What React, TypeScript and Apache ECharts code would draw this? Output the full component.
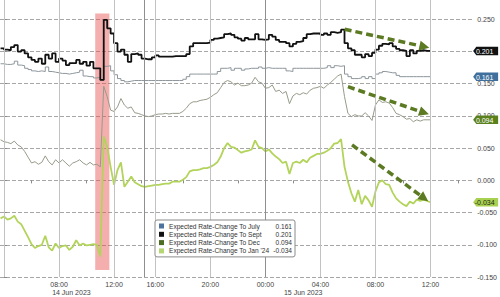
import React, { useEffect, useRef } from "react";
import * as echarts from "echarts";

// ---- data (chart-hours: 0 = 14 Jun 04:00, one hour of the 14:00-16:00 session gap is compressed) ----
const sampleStartHour = -0.25;
const sampleStepHours = 0.25;

const septValues = [
  0.205, 0.203, 0.202, 0.207, 0.21, 0.2, 0.202, 0.197, 0.191, 0.187,
  0.184, 0.189, 0.181, 0.195, 0.189, 0.197, 0.184, 0.189, 0.186, 0.179,
  0.182, 0.182, 0.187, 0.181, 0.184, 0.178, 0.184, 0.174, 0.174, 0.156,
  0.249, 0.236, 0.228, 0.213, 0.2, 0.203, 0.195, 0.184, 0.196, 0.197,
  0.195, 0.189, 0.188, 0.188, 0.191, 0.194, 0.192, 0.192, 0.192, 0.192,
  0.193, 0.193, 0.193, 0.193, 0.196, 0.208, 0.213, 0.213, 0.213, 0.213,
  0.214, 0.218, 0.22, 0.221, 0.222, 0.227, 0.228, 0.226, 0.222, 0.22,
  0.217, 0.221, 0.219, 0.219, 0.227, 0.219, 0.218, 0.219, 0.226, 0.223,
  0.218, 0.215, 0.215, 0.213, 0.208, 0.212, 0.215, 0.216, 0.221, 0.227,
  0.228, 0.228, 0.228, 0.226, 0.228, 0.226, 0.23, 0.229, 0.23, 0.234,
  0.213, 0.205, 0.202, 0.195, 0.195, 0.191, 0.196, 0.193, 0.198, 0.203,
  0.209, 0.212, 0.211, 0.213, 0.208, 0.204, 0.202, 0.201, 0.193, 0.202,
  0.197, 0.201, 0.202, 0.201, 0.201, 0.201,
];

const julyValues = [
  0.181, 0.18, 0.18, 0.181, 0.185, 0.179, 0.178, 0.174, 0.172, 0.17,
  0.169, 0.17, 0.169, 0.176, 0.169, 0.168, 0.167, 0.166, 0.166, 0.165,
  0.166, 0.167, 0.168, 0.171, 0.162, 0.161, 0.161, 0.159, 0.16, 0.156,
  0.177, 0.178, 0.17, 0.164, 0.158, 0.155, 0.153, 0.154, 0.155, 0.155,
  0.155, 0.155, 0.155, 0.155, 0.155, 0.155, 0.155, 0.155, 0.155, 0.155,
  0.155, 0.155, 0.155, 0.157, 0.161, 0.165, 0.165, 0.165, 0.165, 0.165,
  0.165, 0.165, 0.165, 0.169, 0.174, 0.174, 0.175, 0.171, 0.174, 0.174,
  0.171, 0.173, 0.174, 0.174, 0.174, 0.176, 0.174, 0.175, 0.174, 0.174,
  0.174, 0.174, 0.174, 0.17, 0.169, 0.174, 0.174, 0.174, 0.174, 0.174,
  0.174, 0.174, 0.174, 0.174, 0.175, 0.178, 0.175, 0.178, 0.177, 0.178,
  0.165, 0.161, 0.158, 0.158, 0.159, 0.161, 0.158, 0.161, 0.158, 0.165,
  0.167, 0.169, 0.168, 0.167, 0.167, 0.163, 0.161, 0.161, 0.161, 0.161,
  0.161, 0.161, 0.161, 0.161, 0.161, 0.161,
];

const decValues = [
  0.063, 0.06, 0.059, 0.057, 0.061, 0.055, 0.052, 0.045, 0.036, 0.027,
  0.029, 0.025, 0.028, 0.038, 0.029, 0.024, 0.032, 0.027, 0.032, 0.027,
  0.022, 0.027, 0.029, 0.032, 0.027, 0.024, 0.028, 0.024, 0.025, 0.021,
  0.146, 0.13, 0.109, 0.107, 0.114, 0.127, 0.117, 0.112, 0.114, 0.105,
  0.104, 0.102, 0.1, 0.099, 0.1, 0.102, 0.103, 0.103, 0.104, 0.103,
  0.104, 0.104, 0.104, 0.107, 0.112, 0.119, 0.122, 0.122, 0.124, 0.125,
  0.126, 0.129, 0.133, 0.136, 0.144, 0.152, 0.155, 0.153, 0.148, 0.151,
  0.147, 0.147, 0.148, 0.151, 0.16, 0.153, 0.151, 0.143, 0.144, 0.148,
  0.138, 0.14, 0.135, 0.138, 0.119, 0.131, 0.135, 0.133, 0.136, 0.134,
  0.14, 0.143, 0.144, 0.146, 0.143, 0.148, 0.152, 0.157, 0.162, 0.165,
  0.13, 0.104, 0.099, 0.102, 0.1, 0.1, 0.105, 0.1, 0.093, 0.117,
  0.125, 0.121, 0.122, 0.12, 0.113, 0.104, 0.102, 0.099, 0.095, 0.096,
  0.091, 0.094, 0.092, 0.094, 0.094, 0.094,
];

const janValues = [
  -0.059, -0.056, -0.061, -0.059, -0.055, -0.064, -0.068, -0.078, -0.088, -0.099,
  -0.105, -0.102, -0.1, -0.086, -0.104, -0.109, -0.098, -0.105, -0.102, -0.101,
  -0.108, -0.103, -0.093, -0.101, -0.098, -0.101, -0.1, -0.099, -0.1, -0.118,
  0.068, 0.052, 0.021, -0.007, 0.016, 0.028, -0.01, -0.002, 0.006, -0.003,
  -0.006, -0.009, -0.01, -0.009, -0.008, -0.007, -0.007, -0.006, -0.005, -0.005,
  -0.002, -0.002, -0.002, 0.001, 0.005, 0.014, 0.016, 0.016, 0.017, 0.019,
  0.019, 0.021, 0.024, 0.028, 0.037, 0.05, 0.058, 0.052, 0.051, 0.047,
  0.043, 0.045, 0.046, 0.048, 0.062, 0.052, 0.05, 0.045, 0.048, 0.042,
  0.037, 0.033, 0.027, 0.029, 0.01, 0.027, 0.029, 0.027, 0.032, 0.028,
  0.035, 0.038, 0.041, 0.041, 0.043, 0.046, 0.05, 0.057, 0.058, 0.064,
  0.021, -0.002, -0.02, -0.033, -0.015, -0.037, -0.024, -0.031, -0.041, -0.017,
  -0.003, 0.0, -0.006, -0.007, -0.019, -0.028, -0.033, -0.037, -0.04, -0.033,
  -0.036, -0.03, -0.032, -0.03, -0.032, -0.034,
];

const seriesNames = [
  "Expected Rate-Change To July",
  "Expected Rate-Change To Sept",
  "Expected Rate-Change To Dec",
  "Expected Rate-Change To Jan '24",
];
const lastValues = [0.161, 0.201, 0.094, -0.034];

const timeLabelHours = [4, 8, 11, 15, 19, 23, 27, 31];
const timeLabels = ["08:00", "12:00", "16:00", "20:00", "00:00", "04:00", "08:00", "12:00"];
const tickHours = [0, 2, 4, 6, 8, 10, 11, 13, 15, 17, 19, 21, 23, 25, 27, 29, 31, 33];
const dateLabelHours = [4.9, 21.75];
const dateLabels = ["14 Jun 2023", "15 Jun 2023"];
const yTickValues = [-0.15, -0.1, -0.05, 0, 0.05, 0.1, 0.15, 0.2, 0.25];
const lightGridHours = [0, 4, 8, 11, 15, 23, 27, 31];
const solidGridHours = [10.2, 19];

// FOMC window (red band) and trend arrows, in data coordinates
const fomcBand = { from: 6.63, to: 7.66, top: 0.259, bottom: -0.139 };
const arrows = [
  { from: [24.76, 0.2345], to: [30.56, 0.2075] },
  { from: [25.0, 0.1454], to: [30.54, 0.105] },
  { from: [25.3, 0.055], to: [30.54, -0.0278] },
];

const X_MIN = -0.29;
const X_MAX = 34.1;
const Y_MIN = -0.15;
const Y_MAX = 0.28;
const FONT = "'Liberation Sans', Arial, sans-serif";
const GRID_COLOR = "#a6a6a6";

const lineColors = ["#8d969c", "#111111", "#969b8a", "#b3d45a"];
const legendColors = ["#4b739b", "#111111", "#4f6d22", "#b5d670"];
const tagColors = ["#3f6f9c", "#111111", "#5b801e", "#a8d152"];
const tagTextColors = ["#ffffff", "#ffffff", "#ffffff", "#1f2a10"];
const lineWidths = [1, 1.8, 1, 1.8];
const stepModes: (string | false)[] = ["end", "end", false, false];

const allValues = [julyValues, septValues, decValues, janValues];

function toPairs(values: number[]) {
  return values.map((v, i) => [sampleStartHour + sampleStepHours * i, v]);
}

function buildOption() {
  const lineSeries = allValues.map((vals, k) => ({
    name: seriesNames[k],
    type: "line",
    data: toPairs(vals),
    step: stepModes[k] || undefined,
    showSymbol: false,
    symbol: "none",
    silent: true,
    z: k === 1 ? 4 : 3,
    lineStyle: { color: lineColors[k], width: lineWidths[k] },
    itemStyle: { color: legendColors[k] },
    markPoint: {
      silent: true,
      symbol: "path://M0,4 L3,0 L24,0 L24,8 L3,8 Z",
      symbolSize: [25, 8.5],
      symbolOffset: [12.5, 0],
      itemStyle: { color: tagColors[k] },
      label: {
        show: true,
        position: "inside",
        offset: [-1, 0.5],
        formatter: lastValues[k].toFixed(3),
        color: tagTextColors[k],
        fontSize: 7,
        fontFamily: FONT,
      },
      data: [{ coord: [X_MAX, lastValues[k]], value: lastValues[k] }],
    },
  }));

  return {
    animation: false,
    backgroundColor: "#ffffff",
    textStyle: { fontFamily: FONT },
    grid: { left: 0, right: 24, top: 0, bottom: 20, containLabel: false },
    legend: {
      data: seriesNames,
      orient: "vertical",
      left: 155,
      top: 220,
      padding: [2, 3, 2, 4],
      backgroundColor: "#ffffff",
      borderColor: "#8a8a8a",
      borderWidth: 1,
      borderRadius: 2,
      icon: "rect",
      itemWidth: 5,
      itemHeight: 5,
      itemGap: 0.3,
      selectedMode: false,
      z: 20,
      textStyle: {
        fontSize: 6.6,
        color: "#333",
        fontFamily: FONT,
        lineHeight: 8,
        rich: {
          n: { width: 105, fontSize: 6.6, color: "#333", fontFamily: FONT, lineHeight: 8 },
          v: { width: 18, align: "right", fontSize: 6.6, color: "#333", fontFamily: FONT, lineHeight: 8 },
        },
      },
      formatter: (name: string) => {
        const idx = seriesNames.indexOf(name);
        return `{n|${name}}{v|${lastValues[idx].toFixed(3)}}`;
      },
    },
    xAxis: [
      {
        type: "value",
        min: X_MIN,
        max: X_MAX,
        position: "bottom",
        axisLine: { show: false },
        axisTick: {
          show: true,
          customValues: tickHours,
          length: 3,
          lineStyle: { color: "#8a8a8a" },
        },
        axisLabel: {
          customValues: timeLabelHours,
          formatter: (v: number) => {
            const i = timeLabelHours.findIndex((h) => Math.abs(h - v) < 1e-6);
            return i >= 0 ? timeLabels[i] : "";
          },
          fontSize: 7,
          color: "#444",
          margin: 4,
          fontFamily: FONT,
        },
        splitLine: { show: false },
      },
      {
        type: "value",
        min: X_MIN,
        max: X_MAX,
        position: "bottom",
        axisLine: { show: false },
        axisTick: { show: false },
        axisLabel: {
          customValues: dateLabelHours,
          formatter: (v: number) => {
            const i = dateLabelHours.findIndex((h) => Math.abs(h - v) < 1e-6);
            return i >= 0 ? dateLabels[i] : "";
          },
          fontSize: 7,
          color: "#444",
          margin: 12,
          fontFamily: FONT,
        },
        splitLine: { show: false },
      },
    ],
    yAxis: {
      type: "value",
      position: "right",
      min: Y_MIN,
      max: Y_MAX,
      interval: 0.05,
      axisLine: { show: true, lineStyle: { color: "#9a9a9a", width: 1 } },
      axisTick: {
        show: true,
        inside: false,
        customValues: yTickValues,
        length: 3,
        lineStyle: { color: "#8a8a8a" },
      },
      axisLabel: {
        customValues: yTickValues,
        formatter: (v: number) => v.toFixed(3),
        fontSize: 7,
        color: "#444",
        margin: 4,
        fontFamily: FONT,
      },
      splitLine: { show: true, lineStyle: { color: GRID_COLOR, type: "dashed", width: 1 } },
    },
    series: [
      {
        name: "gridlines",
        type: "line",
        data: [],
        silent: true,
        z: 1,
        markLine: {
          silent: true,
          symbol: ["none", "none"],
          label: { show: false },
          lineStyle: { color: "#c2c2c2", type: "solid", width: 1 },
          data: [
            ...lightGridHours.map((h) => ({
              xAxis: h,
              lineStyle: { color: "#c2c2c2", type: "solid", width: 1 },
            })),
            ...solidGridHours.map((h) => ({
              xAxis: h,
              lineStyle: { color: "#8f8f8f", type: "solid", width: 1 },
            })),
          ],
        },
      },
      ...lineSeries,
      {
        name: "annotations",
        type: "line",
        data: [],
        silent: true,
        z: 10,
        markArea: {
          silent: true,
          itemStyle: { color: "rgba(234, 86, 86, 0.48)" },
          data: [
            [
              { coord: [fomcBand.from, fomcBand.top] },
              { coord: [fomcBand.to, fomcBand.bottom] },
            ],
          ],
        },
        markLine: {
          silent: true,
          symbol: ["none", "triangle"],
          symbolSize: [10, 10],
          label: { show: false },
          lineStyle: { color: "#5b7a22", width: 3.5, type: [7, 4] },
          data: arrows.map((a) => [{ coord: a.from }, { coord: a.to }]),
        },
      },
    ],
  };
}

export default function App() {
  const ref = useRef<HTMLDivElement>(null);
  useEffect(() => {
    if (!ref.current) return;
    const chart = echarts.init(ref.current, undefined, { renderer: "svg" });
    chart.setOption(buildOption() as any);
    return () => chart.dispose();
  }, []);
  return (
    <div
      ref={ref}
      style={{ position: "fixed", left: 0, top: 0, width: 500, height: 297, background: "#fff" }}
    />
  );
}
